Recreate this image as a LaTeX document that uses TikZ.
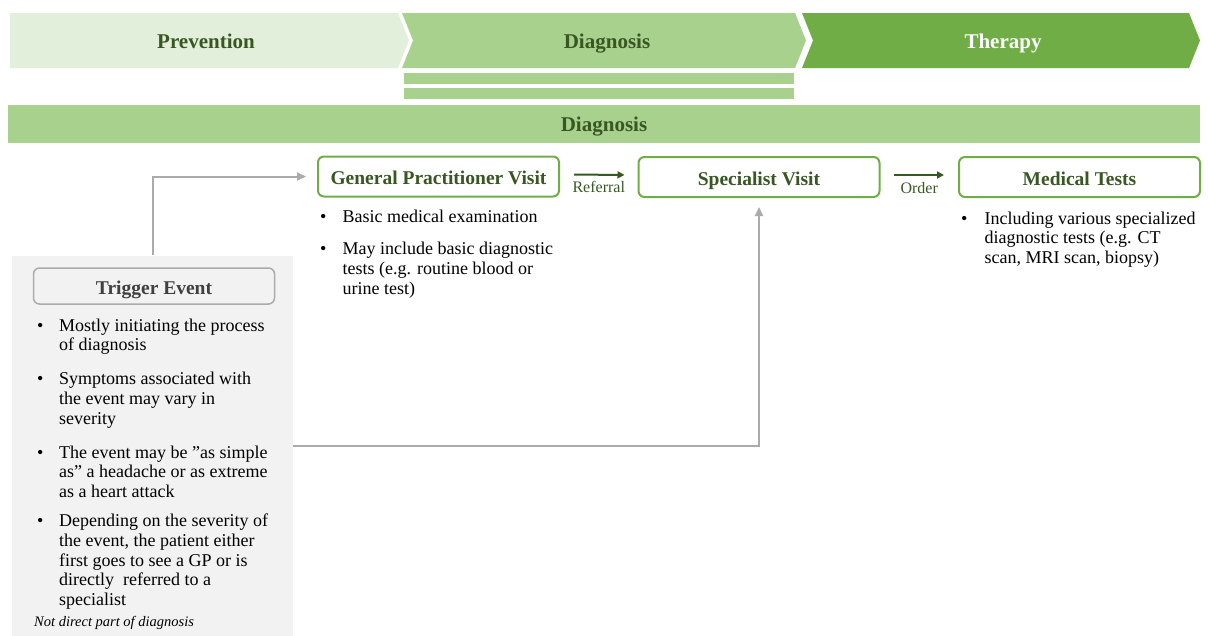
\documentclass[tikz,border=0pt]{standalone}
\usepackage{fontspec}
\setmainfont{Liberation Serif}
\usepackage{xcolor}
\usepackage{tikz}
\usetikzlibrary{arrows.meta}

\definecolor{palegreen}{HTML}{E2EFDA}
\definecolor{midgreen}{HTML}{A9D18E}
\definecolor{leafgreen}{HTML}{70AD47}
\definecolor{darkgreen}{HTML}{385723}
\definecolor{panelgray}{HTML}{F2F2F2}
\definecolor{linegray}{HTML}{ABABAB}
\definecolor{titlegray}{HTML}{404040}

\newcommand{\bodyfont}{\fontsize{18}{19.9}\selectfont}

\begin{document}
\begin{tikzpicture}[x=1pt,y=-1pt,
		phase/.style={font=\fontsize{21}{25}\selectfont\bfseries, anchor=base, inner sep=0pt},
		stepbox/.style={draw=leafgreen, line width=2pt, rounded corners=6pt, fill=white,
			minimum width=241pt, minimum height=40pt, inner sep=0pt,
			text height=17pt, text depth=1pt, text=darkgreen,
			font=\fontsize{19.5}{23}\selectfont\bfseries},
		bullets/.style={anchor=base west, inner sep=0pt, font=\bodyfont},
		lbl/.style={font=\fontsize{16}{19}\selectfont, text=darkgreen, anchor=base, inner sep=0pt},
		darkarrow/.style={darkgreen, line width=2pt, -{Triangle[length=7pt,width=7pt]}},
		grayarrow/.style={linegray, line width=2pt, -{Triangle[length=9pt,width=8pt]}}]
		\useasboundingbox (0,0) rectangle (1208,635);
		
		\foreach \xl/\xr/\nd/\fc/\tc/\xt/\nm/\lbl in {
			10/398/0/palegreen/darkgreen/206/prev/Prevention,
			402/795/11/midgreen/darkgreen/607/diag/Diagnosis,
			802/1189/11/leafgreen/white/1003/ther/Therapy}{
			\fill[\fc] (\xl,13) -- (\xr,13) -- (\xr+11,40.5) -- (\xr,68) -- (\xl,68) -- (\xl+\nd,40.5) -- cycle;
			\node[phase, text=\tc] (\nm) at (\xt,48) {\lbl};
		}
		\fill[midgreen] (404,73) rectangle (794,84);
		\fill[midgreen] (404,88) rectangle (794,99);
		
		\node[fill=midgreen, minimum width=1192pt, minimum height=38pt, inner sep=0pt,
			text height=14pt, text depth=0pt, text=darkgreen,
			font=\fontsize{21}{25}\selectfont\bfseries] (diagband) at (604,124) {Diagnosis};
		
		\node[stepbox] (gp) at (438.5,176.5) {General Practitioner Visit};
		\node[stepbox] (spec) at (759,177) {Specialist Visit};
		\node[stepbox] (tests) at (1079.5,177) {Medical Tests};
		
		\draw[darkarrow, shorten <=14pt, shorten >=13pt] ([yshift=2pt]gp.east) -- ([yshift=2pt]spec.west)
			node[lbl, midway, yshift=-18pt] (referral) {Referral};
		\draw[darkarrow, shorten <=13pt, shorten >=14pt] ([yshift=2pt]spec.east) -- ([yshift=2pt]tests.west)
			node[lbl, midway, yshift=-18pt] (order) {Order};
		
		\node[bullets] (gplist) at (320,222) {%
			\begin{tabular}[t]{@{}p{22.5pt}@{}l@{}}
				\textbullet & Basic medical examination\\[13pt]
				\textbullet & May include basic diagnostic\\
				& tests (e.g. routine blood or\\
				& urine test)
			\end{tabular}};
		\node[bullets] (testlist) at (961,224) {%
			\begin{tabular}[t]{@{}p{23.5pt}@{}l@{}}
				\textbullet & Including various specialized\\
				& diagnostic tests (e.g. CT\\
				& scan, MRI scan, biopsy)
			\end{tabular}};
		
		\node[fill=panelgray, minimum width=281pt, minimum height=380pt, inner sep=0pt] (trigpanel) at (152.5,445.5) {};
		\node[draw=linegray, line width=1.5pt, rounded corners=6pt, minimum width=241pt, minimum height=36pt,
			inner sep=0pt, text height=17pt, text depth=1pt, text=titlegray,
			font=\fontsize{19.5}{23}\selectfont\bfseries] (trigger) at (154,286) {Trigger Event};
		\node[bullets] (triglist) at (37,331) {%
			\begin{tabular}[t]{@{}p{22pt}@{}l@{}}
				\textbullet & Mostly initiating the process\\
				& of diagnosis\\[14pt]
				\textbullet & Symptoms associated with\\
				& the event may vary in\\
				& severity\\[13.5pt]
				\textbullet & The event may be ”as simple\\
				& as” a headache or as extreme\\
				& as a heart attack\\[8.5pt]
				\textbullet & Depending on the severity of\\
				& the event, the patient either\\
				& first goes to see a GP or is\\
				& directly~ referred to a\\
				& specialist
			\end{tabular}};
		\node[bullets, font=\fontsize{14.5}{17}\selectfont\itshape] (note) at (34,626) {Not direct part of diagnosis};
		
		\draw[grayarrow, shorten >=11pt] (trigpanel.north) |- (gp.west);
		\draw[grayarrow, shorten >=9pt] (trigpanel.east) -| (spec.south);
	\end{tikzpicture}
\end{document}
